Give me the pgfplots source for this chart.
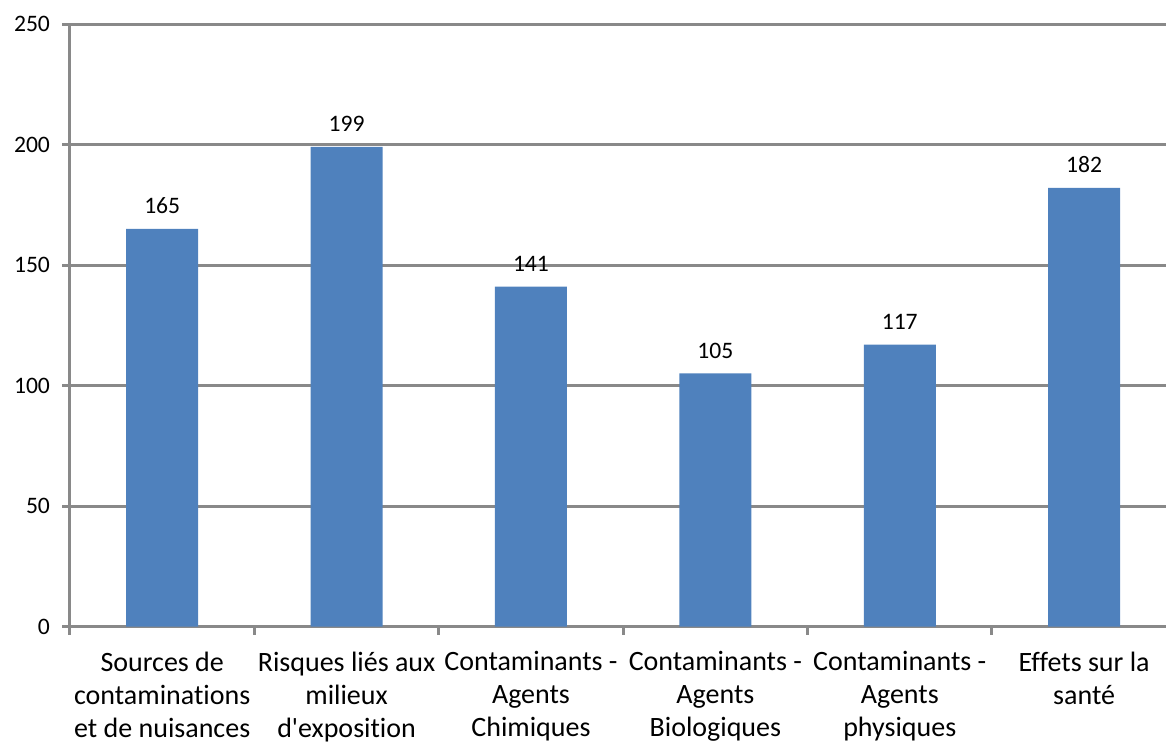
\documentclass[border=0pt]{standalone}
\usepackage{pgfplots}
\pgfplotsset{compat=1.18}
\usepackage{fontspec}
\setmainfont{Carlito}[Ligatures={TeXOff,CommonOff}]
\definecolor{barblue}{HTML}{4F81BD}
\definecolor{axgray}{HTML}{898989}
\begin{document}
\begin{tikzpicture}
\begin{axis}[
  scale only axis, width=548pt, height=301.25pt,
  at={(0,0)}, anchor=south west,
  xmin=-0.5, xmax=5.444, ymin=0, ymax=250,
  axis lines=left,
  axis line style={draw=axgray, line width=1.5pt, -},
  ytick={0,50,...,250},
  ymajorgrids,
  grid style={draw=axgray, line width=1.5pt},
  xtick={-0.5,0.5,...,4.5},
  xticklabels={
    Sources de\\contaminations\\et de nuisances,
    Risques liés aux\\milieux\\d'exposition,
    Contaminants -\\Agents\\Chimiques,
    Contaminants -\\Agents\\Biologiques,
    Contaminants -\\Agents\\physiques,
    Effets sur la\\santé},
  tick style={draw=axgray, line width=1.5pt},
  tick align=outside,
  major tick length=4pt,
  x tick label style={xshift=46.1pt, yshift=-5pt, align=center, font=\fontsize{14}{16.5}\selectfont},
  y tick label style={xshift=-2.5pt, font=\fontsize{11.8}{14}\selectfont},
  /pgf/number format/assume math mode=true,
  ybar, bar width=36pt,
  nodes near coords,
  every node near coord/.append style={font=\fontsize{11.8}{14}\selectfont, black, yshift=4pt},
  clip=false,
]
\addplot[fill=barblue, draw=none] coordinates {(0,165) (1,199) (2,141) (3,105) (4,117) (5,182)};
\end{axis}
\pgfresetboundingbox
\path[use as bounding box] (-35pt,-59.5pt) rectangle (548pt,313.25pt);
\end{tikzpicture}
\end{document}
